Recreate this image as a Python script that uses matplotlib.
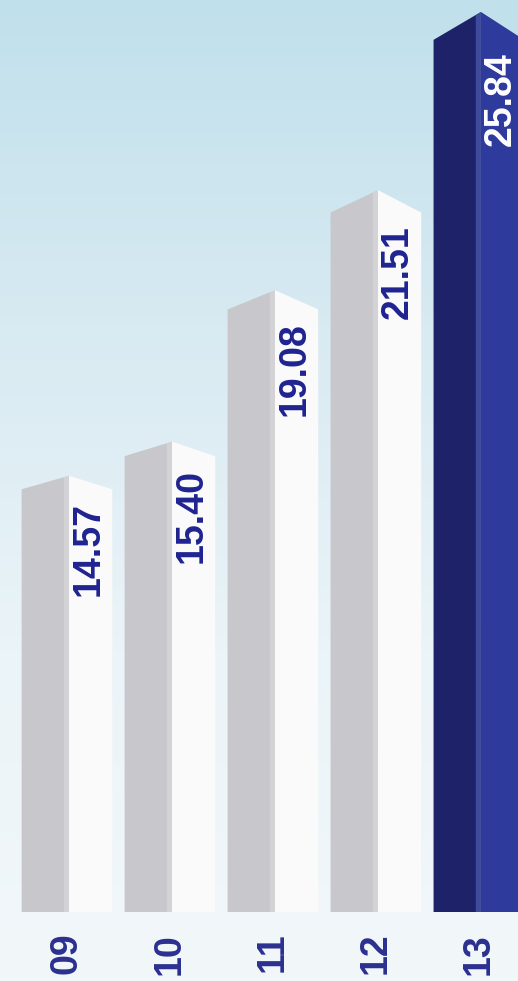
import matplotlib
matplotlib.use('Agg')
import matplotlib.pyplot as plt
import numpy as np
from matplotlib.patches import Polygon
from matplotlib.colors import LinearSegmentedColormap

years = ['09', '10', '11', '12', '13']
values = [14.57, 15.40, 19.08, 21.51, 25.84]
value_labels = ['14.57', '15.40', '19.08', '21.51', '25.84']
highlight = [False, False, False, False, True]

plt.rcParams['font.family'] = ['Liberation Sans', 'DejaVu Sans']

W, H, DPI = 518, 981, 100
fig = plt.figure(figsize=(W / DPI, H / DPI), dpi=DPI)

# background gradient
bg = fig.add_axes([0, 0, 1, 1])
bg.set_axis_off()
grad = np.linspace(0, 1, 256).reshape(-1, 1)
cmap_bg = LinearSegmentedColormap.from_list('bg', ['#c0e0ec', '#d8eaf2', '#ebf4f8', '#f2f7fa'])
bg.imshow(grad, aspect='auto', cmap=cmap_bg, extent=[0, 1, 0, 1], origin='upper')

base_px = 912
ax = fig.add_axes([0, (H - base_px) / H, 1, base_px / H])
ax.patch.set_alpha(0)
ymin, ymax = 3.97, 26.13
ax.set_xlim(-0.65, 4.38)
ax.set_ylim(ymin, ymax)

for i, (v, lab, hi) in enumerate(zip(values, value_labels, highlight)):
    c = i
    xl, xm, xr = c - 0.44, c + 0.02, c + 0.44
    drop = 0.031 * (v - ymin)
    if hi:
        lc, rc, sc, tc = '#1e2369', '#2e3b9c', '#5565bd', 'white'
    else:
        lc, rc, sc, tc = '#c8c7cb', '#fafafa', '#dcdcde', '#1f2390'
    left = Polygon([(xl, ymin), (xm, ymin), (xm, v), (xl, v - drop)],
                   closed=True, facecolor=lc, edgecolor='none', zorder=2)
    right = Polygon([(xm, ymin), (xr, ymin), (xr, v - drop), (xm, v)],
                    closed=True, facecolor=rc, edgecolor='none', zorder=2)
    ax.add_patch(left)
    ax.add_patch(right)
    strip = Polygon([(xm - 0.05, ymin), (xm, ymin), (xm, v), (xm - 0.05, v - drop * 0.05 / 0.46)],
                    closed=True, facecolor=sc, edgecolor='none', zorder=3, alpha=0.6)
    ax.add_patch(strip)
    ax.text(c + 0.215, v - drop - 0.3, lab, rotation=90, ha='center', va='top',
            fontsize=27, fontweight='bold', color=tc, zorder=4)

ax.set_xticks(range(len(years)))
ax.set_xticklabels(years, rotation=90, fontsize=27, fontweight='bold', color='#2b3090')
ax.tick_params(axis='x', length=0, pad=15)
ax.set_yticks([])
for s in ax.spines.values():
    s.set_visible(False)

fig.savefig('out.png', dpi=DPI)
